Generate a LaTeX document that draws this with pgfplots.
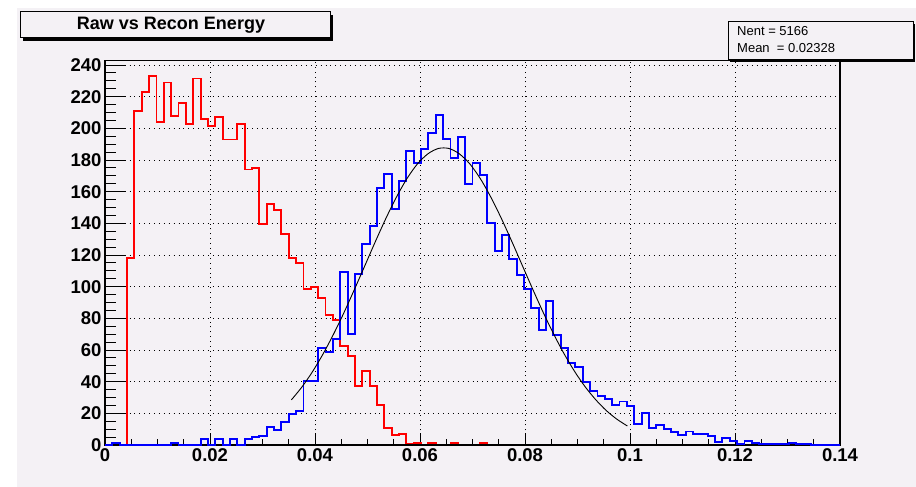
\documentclass[border=0pt]{standalone}
\usepackage{fontspec}
\setmainfont{Liberation Sans}
\usepackage{pgfplots}
\usepackage{pgfplotstable}
\pgfplotsset{compat=1.18}
\definecolor{padbg}{RGB}{244,241,245}
\definecolor{histred}{RGB}{255,0,0}
\definecolor{histblue}{RGB}{0,0,255}

% bin left edges (100 bins, width 0.0014), raw (r) and recon (b) counts
\pgfplotstableread{
x r b
0      0     0
0.0014 0     1
0.0028 0     0
0.0042 118   0
0.0056 211   0
0.0070 223   0
0.0084 233   0
0.0098 204   0
0.0112 229   0
0.0126 208   1
0.0140 216   0
0.0154 203   0
0.0168 231.5 0
0.0182 206   3.6
0.0196 201.5 0
0.0210 207   3.6
0.0224 193   0
0.0238 193   3.6
0.0252 202.5 0
0.0266 174   3.6
0.0280 175   5.1
0.0294 139.5 5.7
0.0308 152   11.4
0.0322 148.6 9.5
0.0336 133   14.8
0.0350 118   19.5
0.0364 115   21.6
0.0378 98.4  40.6
0.0392 100   40.6
0.0406 93    61.2
0.0420 82    58.6
0.0434 78.7  67.1
0.0448 62.4  109.4
0.0462 56    70.3
0.0476 37    108
0.0490 46.6  127
0.0504 37    138.6
0.0518 25.2  162.3
0.0532 11    171
0.0546 6.2   149.2
0.0560 6.8   166.6
0.0574 0.6   185.6
0.0588 1.5   178.2
0.0602 0     186.7
0.0616 1     197.3
0.0630 0     208.5
0.0644 0     193.4
0.0658 1     181.4
0.0672 0     194.5
0.0686 0     165
0.0700 0     178.2
0.0714 1     170.8
0.0728 0     140.1
0.0742 0     122.7
0.0756 0     132.7
0.0770 0     117.3
0.0784 0     107.3
0.0798 0     98.4
0.0812 0     86.8
0.0826 0     72.8
0.0840 0     90.8
0.0854 0     69.2
0.0868 0     61.4
0.0882 0     51.6
0.0896 0     49.5
0.0910 0     39.6
0.0924 0     34.3
0.0938 0     31.1
0.0952 0     29
0.0966 0     25.4
0.0980 0     27.5
0.0994 0     24.8
0.1008 0     13.5
0.1022 0     20.1
0.1036 0     10.6
0.1050 0     12.6
0.1064 0     10.2
0.1078 0     8.4
0.1092 0     6.5
0.1106 0     8.5
0.1120 0     6.8
0.1134 0     6.8
0.1148 0     5.5
0.1162 0     1.7
0.1176 0     4.7
0.1190 0     2.7
0.1204 0     0.4
0.1218 0     2.5
0.1232 0     1.5
0.1246 0     0.5
0.1260 0     0.5
0.1274 0     0.5
0.1288 0     0.5
0.1302 0     1.5
0.1316 0     0.5
0.1330 0     0.5
0.1344 0     0
0.1358 0     0
0.1372 0     0
0.1386 0     0
0.1400 0     0
}\hists

\begin{document}
\begin{tikzpicture}
\useasboundingbox (0pt,0pt) rectangle (916pt,487pt);
\fill[white] (0pt,0pt) rectangle (916pt,487pt);
\fill[padbg] (17pt,0pt) rectangle (916pt,479pt);

% y tick marks (longer than the x ones)
\begin{axis}[
    at={(105pt,42pt)}, anchor=south west,
    scale only axis, width=735pt, height=384.7pt,
    xmin=0, xmax=0.14, ymin=0, ymax=243,
    axis line style={draw=none},
    xtick=\empty,
    ytick={0,20,...,240}, yticklabels={},
    minor y tick num=3,
    ytick pos=left, tick align=inside,
    major tick length=21pt, minor tick length=11pt,
    tick style={black, line width=1pt},
]
\end{axis}

\begin{axis}[
    at={(105pt,42pt)}, anchor=south west,
    scale only axis, width=735pt, height=384.7pt,
    xmin=0, xmax=0.14, ymin=0, ymax=243,
    axis line style={black, line width=1.3pt},
    xtick={0,0.02,0.04,0.06,0.08,0.1,0.12,0.14},
    xticklabels={0,0.02,0.04,0.06,0.08,0.1,0.12,0.14},
    minor x tick num=3,
    ytick={0,20,40,60,80,100,120,140,160,180,200,220,240},
    yticklabels={0,20,40,60,80,100,120,140,160,180,200,220,240},
    ytick style={draw=none},
    xtick pos=left, ytick pos=left, tick align=inside,
    major tick length=12pt, minor tick length=6pt,
    tick style={black, line width=1pt},
    grid=major,
    major grid style={black, line width=0.9pt, dash pattern=on 0.9pt off 4pt},
    tick label style={font=\bfseries\fontsize{18.5}{18.5}\selectfont},
    clip=false,
]
\addplot[const plot, histred, line width=1.9pt, line join=miter] table[x=x, y=r] {\hists};
% frame redrawn over the empty red bins
\draw[black, line width=2pt] (axis cs:0,0) -- (axis cs:0.14,0);
\addplot[const plot, histblue, line width=1.9pt, line join=miter] table[x=x, y=b] {\hists};
\addplot[black, line width=0.9pt, smooth] coordinates {
    (0.0355,28.5) (0.0375,36.6) (0.0395,46.2) (0.0415,57.3) (0.0435,69.8)
    (0.0455,83.5) (0.0475,98.2) (0.0495,113.3) (0.0515,128.5) (0.0535,143.1)
    (0.0555,156.5) (0.0575,168.2) (0.0595,177.5) (0.0615,183.9) (0.0635,187.3)
    (0.0655,187.3) (0.0675,183.9) (0.0695,177.5) (0.0715,168.2) (0.0735,156.5)
    (0.0755,143.1) (0.0775,128.5) (0.0795,113.3) (0.0815,98.2) (0.0835,83.5)
    (0.0855,69.8) (0.0875,57.3) (0.0895,46.2) (0.0915,36.6) (0.0935,28.5)
    (0.0955,21.7) (0.0975,16.3) (0.0995,12.0)
};
\end{axis}

% title box
\fill[black] (23pt,446pt) rectangle (333pt,472pt);
\filldraw[fill=padbg, draw=black, line width=1pt] (20pt,449pt) rectangle (330pt,475pt);
\node[font=\bfseries\fontsize{18}{18}\selectfont] at (171pt,462pt) {Raw vs Recon Energy};

% stats box
\fill[black] (730pt,425pt) rectangle (915pt,463pt);
\filldraw[fill=padbg, draw=black, line width=1pt] (728pt,427pt) rectangle (913pt,465pt);
\node[anchor=west, font=\fontsize{13}{13}\selectfont, inner sep=0pt] at (737pt,456pt) {Nent = 5166};
\node[anchor=west, font=\fontsize{13}{13}\selectfont, inner sep=0pt] at (737pt,439pt) {Mean\ \ = 0.02328};
\end{tikzpicture}
\end{document}
